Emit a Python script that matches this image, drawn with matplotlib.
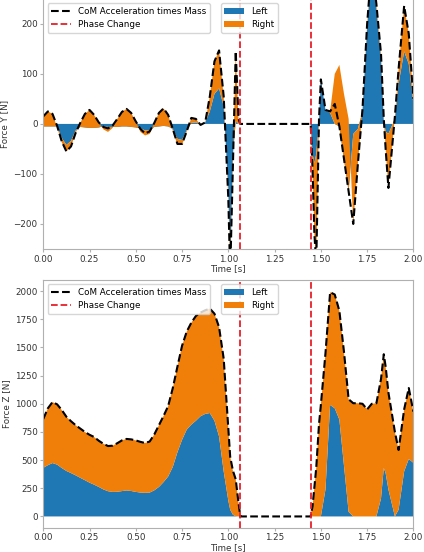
import matplotlib
matplotlib.use("Agg")
import matplotlib.pyplot as plt

# time samples [s]
time = [0.000, 0.025, 0.050, 0.075, 0.100, 0.125, 0.150, 0.175, 0.200, 0.225,
        0.250, 0.275, 0.300, 0.325, 0.350, 0.375, 0.400, 0.425, 0.450, 0.475,
        0.500, 0.525, 0.550, 0.575, 0.600, 0.625, 0.650, 0.675, 0.700, 0.725,
        0.750, 0.775, 0.800, 0.825, 0.850, 0.875, 0.900, 0.925, 0.950, 0.975,
        1.000, 1.010, 1.025, 1.040, 1.055, 1.065,
        1.445, 1.455, 1.465, 1.475, 1.490, 1.500, 1.525, 1.550, 1.575, 1.600,
        1.625, 1.650, 1.675, 1.700, 1.725, 1.750, 1.775, 1.800, 1.825, 1.840,
        1.850, 1.865, 1.900, 1.920, 1.950, 1.975, 2.000]

# Force Y
com_y = [15, 25, 20, -4, -35, -55, -45, -18, 2, 20,
         28, 18, 3, -6, -9, -3, 10, 24, 30, 22,
         5, -10, -19, -15, 2, 22, 31, 18, -10, -40,
         -40, -15, 12, 10, -2, 3, 55, 125, 147, 55,
         -150, -300, -80, 145, 10, 0,
         0, -90, -220, -280, 10, 89, 28, 25, 40, -5,
         -70, -135, -200, -80, 30, 200, 320, 240, 140, 10,
         -50, -128, 15, 110, 236, 180, 50]
left_y = [-5, -5, -5, -5, -28, -42, -34, -13, -6, -7,
          -8, -8, -7, -5, -6, -6, -6, -5, -5, -6,
          -7, -9, -13, -12, -6, -5, -4, -5, -10, -30,
          -32, -13, 2, 3, -1, 3, 25, 60, 71, 35,
          -130, -270, -60, 5, 0, 0,
          0, -60, -78, -60, 5, 89, 28, 22, 0, -5,
          -70, -135, -20, -10, 25, 190, 310, 230, 130, 5,
          -15, -20, 10, 80, 145, 120, 40]
right_y = [20, 30, 25, -2, -9, -13, -11, -5, 8, 27,
           36, 26, 10, -6, -10, -2, 16, 29, 35, 28,
           12, -7, -10, -8, 8, 27, 35, 23, -4, -12,
           -10, -3, 10, 7, -1, 0, 30, 65, 76, 20,
           -20, -30, -20, 140, 10, 0,
           0, -30, -142, -220, 5, 0, 0, 3, 100, 123,
           130, 145, -180, -70, 5, 10, 10, 10, 10, 5,
           -35, -108, 5, 30, 91, 60, 10]

# Force Z
com_z = [865, 960, 1015, 995, 945, 885, 845, 810, 780, 750,
         725, 705, 672, 645, 625, 628, 650, 675, 688, 684,
         675, 662, 652, 665, 728, 810, 892, 980, 1140, 1330,
         1515, 1640, 1720, 1780, 1810, 1830, 1845, 1800, 1680, 1400,
         780, 530, 405, 330, 120, 0,
         0, 90, 260, 430, 820, 990, 1450, 1990, 1970, 1825,
         1460, 1040, 1005, 1005, 1000, 950, 1000, 1005, 1220, 1440,
         1330, 1100, 750, 590, 950, 1140, 930]
left_z = [432, 455, 474, 460, 430, 404, 385, 365, 343, 322,
          300, 282, 262, 240, 224, 218, 219, 225, 231, 226,
          218, 212, 210, 212, 232, 262, 305, 355, 440, 570,
          680, 770, 815, 850, 890, 910, 918, 850, 710, 400,
          140, 60, 15, 3, 0, 0,
          0, 0, 0, 0, 0, 0, 240, 990, 960, 860,
          450, 40, 0, 0, 0, 0, 0, 0, 160, 430,
          385, 240, 0, 60, 400, 510, 476]
right_z = [433, 505, 541, 535, 515, 481, 460, 445, 437, 428,
           425, 423, 410, 405, 401, 410, 431, 450, 457, 458,
           457, 450, 442, 453, 496, 548, 587, 625, 700, 760,
           835, 870, 905, 930, 920, 920, 927, 950, 970, 1000,
           640, 470, 390, 327, 120, 0,
           0, 90, 260, 430, 820, 990, 1210, 1000, 1010, 965,
           1010, 1000, 1005, 1005, 1000, 950, 1000, 1005, 1060, 1010,
           945, 860, 750, 530, 550, 630, 454]

phase_changes = [1.065, 1.445]

FS = 6.3
SPINE = "#b0b0b0"

fig = plt.figure(figsize=(4.24, 5.52), dpi=100)
ax1 = fig.add_axes([0.102, 0.549, 0.873, 0.453])
ax2 = fig.add_axes([0.102, 0.044, 0.873, 0.449])


def draw(ax, com, left, right, ylabel, ylim, yticks):
    polys = ax.stackplot(time, left, right, labels=["Left", "Right"],
                         colors=["#1f77b4", "#f07f0a"])
    line, = ax.plot(time, com, "k--", lw=1.5, label="CoM Acceleration times Mass")
    vl = None
    for pc in phase_changes:
        vl = ax.axvline(pc, color="#e8202a", ls="--", lw=1.3, label="Phase Change")
    ax.set_xlim(0, 2)
    ax.set_ylim(*ylim)
    ax.set_yticks(yticks)
    ax.set_xticks([0, 0.25, 0.5, 0.75, 1.0, 1.25, 1.5, 1.75, 2.0])
    ax.set_xlabel("Time [s]", fontsize=FS, color="0.2", labelpad=0.5)
    ax.set_ylabel(ylabel, fontsize=FS, color="0.2", labelpad=3)
    ax.tick_params(labelsize=FS, colors=SPINE, labelcolor="0.2", length=2.5, pad=1.5)
    for s in ax.spines.values():
        s.set_color(SPINE)
    leg1 = ax.legend(handles=[line, vl], loc="upper left", fontsize=FS,
                     handlelength=2.3, borderaxespad=0.5)
    ax.add_artist(leg1)
    ax.legend(handles=polys, loc="upper left", bbox_to_anchor=(0.468, 1.0),
              fontsize=FS, handlelength=2.3, borderaxespad=0.5)


draw(ax1, com_y, left_y, right_y, "Force Y [N]", (-250, 250), [-200, -100, 0, 100, 200])
draw(ax2, com_z, left_z, right_z, "Force Z [N]", (-100, 2100),
     [0, 250, 500, 750, 1000, 1250, 1500, 1750, 2000])

fig.savefig("out.png", dpi=100)
